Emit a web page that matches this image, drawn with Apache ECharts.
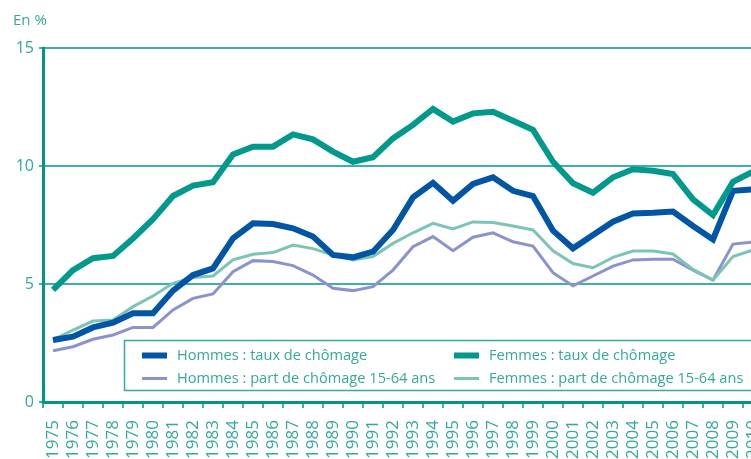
<!DOCTYPE html>
<html>
<head>
<meta charset="utf-8">
<script src="https://cdn.jsdelivr.net/npm/echarts@6/dist/echarts.min.js"></script>
<style>
  html, body { margin: 0; padding: 0; background: #fff; }
  #chart { width: 751px; height: 459px; }
</style>
</head>
<body>
<div id="chart"></div>
<script>
// années
const years = []
for (let y = 1975; y <= 2010; y++) years.push(String(y))

// taux de chômage (en %)
const hommesTaux = [2.63, 2.77, 3.16, 3.36, 3.76, 3.76, 4.72, 5.38, 5.66, 6.93, 7.57, 7.54, 7.36, 7.01, 6.23, 6.13, 6.37, 7.29, 8.67, 9.29, 8.53, 9.24, 9.52, 8.95, 8.73, 7.26, 6.51, 7.08, 7.64, 7.99, 8.02, 8.07, 7.46, 6.89, 8.95, 9.01]
const femmesTaux = [4.75, 5.59, 6.09, 6.19, 6.93, 7.75, 8.73, 9.17, 9.31, 10.49, 10.82, 10.82, 11.34, 11.13, 10.61, 10.18, 10.37, 11.17, 11.74, 12.42, 11.88, 12.23, 12.30, 11.92, 11.53, 10.18, 9.27, 8.87, 9.52, 9.86, 9.80, 9.66, 8.59, 7.92, 9.33, 9.76]
// part de chômage 15-64 ans
const hommesPart = [2.17, 2.34, 2.66, 2.84, 3.16, 3.16, 3.90, 4.39, 4.58, 5.52, 5.99, 5.95, 5.78, 5.38, 4.82, 4.72, 4.89, 5.59, 6.58, 7.01, 6.41, 6.98, 7.17, 6.79, 6.61, 5.48, 4.92, 5.34, 5.76, 6.02, 6.05, 6.05, 5.59, 5.17, 6.69, 6.78]
const femmesPart = [2.63, 3.05, 3.43, 3.47, 4.04, 4.49, 5.03, 5.28, 5.34, 6.02, 6.26, 6.33, 6.65, 6.50, 6.23, 6.02, 6.16, 6.72, 7.17, 7.57, 7.33, 7.63, 7.61, 7.46, 7.29, 6.41, 5.87, 5.69, 6.13, 6.40, 6.40, 6.27, 5.62, 5.17, 6.16, 6.44]

const yTicks = [0, 5, 10, 15]

const teal = '#00958a'
const txt = '#35a89a'
const font = 'Open Sans'

const chart = echarts.init(document.getElementById('chart'))

function serie(name, data, color, width) {
  return {
    name: name,
    type: 'line',
    data: data,
    symbol: 'none',
    color: color,
    lineStyle: { width: width, color: color, join: 'miter' },
    z: width > 4 ? 4 : 3
  }
}

// une légende par entrée pour avoir des épaisseurs différentes
function leg(name, color, left, top, h) {
  return {
    left: left, top: top, itemWidth: 25, itemHeight: h, itemGap: 0,
    textStyle: { color: txt, fontSize: 14.6, fontFamily: font, padding: [0, 0, 0, 5] },
    z: 10,
    data: [{ name: name, icon: 'rect', itemStyle: { color: color } }]
  }
}

chart.setOption({
  animation: false,
  grid: { left: 43, top: 48, width: 720, height: 354, outerBoundsMode: 'none' },
  graphic: [
    { type: 'text', left: 13, top: 13, style: { text: 'En %', fill: txt, fontSize: 15, fontFamily: font } },
    { type: 'rect', shape: { x: 124.5, y: 340.5, width: 700, height: 50 },
      style: { fill: '#fff', stroke: '#3aa99b', lineWidth: 1.5 }, z: 5 }
  ],
  legend: [
    leg('Hommes : taux de chômage', '#0055a4', 137, 343, 6),
    leg('Hommes : part de chômage 15-64 ans', '#8b93cd', 137, 366, 3),
    leg('Femmes : taux de chômage', '#00998b', 449, 343, 6),
    leg('Femmes : part de chômage 15-64 ans', '#7cc5b6', 449, 366, 3)
  ],
  xAxis: {
    type: 'category',
    data: years,
    boundaryGap: true,
    axisLine: { lineStyle: { color: teal, width: 3 } },
    axisTick: { show: true, length: 6, lineStyle: { color: teal, width: 1.5 } },
    axisLabel: { rotate: 90, margin: 18, color: txt, fontSize: 17, fontFamily: font, interval: 0, padding: [0, 0, 8, 0] }
  },
  yAxis: {
    type: 'value',
    min: yTicks[0],
    max: yTicks[yTicks.length - 1],
    interval: 5,
    axisLine: { show: true, lineStyle: { color: teal, width: 3 } },
    axisTick: { show: true, length: 4, lineStyle: { color: teal, width: 1.5 } },
    axisLabel: { margin: 9, color: txt, fontSize: 16, fontFamily: font },
    splitLine: { lineStyle: { color: teal, width: 1.5 } }
  },
  series: [
    serie('Hommes : taux de chômage', hommesTaux, '#0055a4', 6),
    serie('Femmes : taux de chômage', femmesTaux, '#00998b', 6),
    serie('Hommes : part de chômage 15-64 ans', hommesPart, '#8b93cd', 3),
    serie('Femmes : part de chômage 15-64 ans', femmesPart, '#7cc5b6', 3)
  ]
})
</script>
</body>
</html>
